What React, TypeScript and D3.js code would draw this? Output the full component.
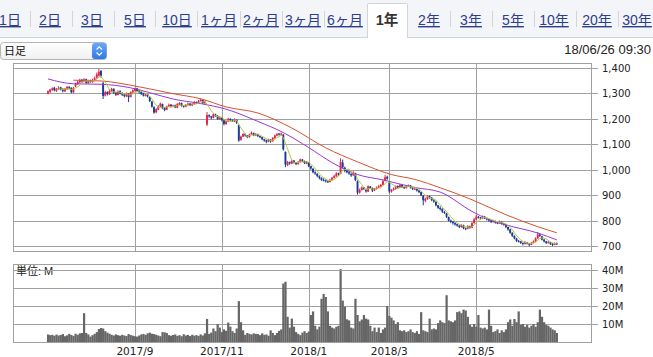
import React from "react";
import * as d3 from "d3";

// ---------- DATA ----------
const tabLabels = ["1日", "2日", "3日", "5日", "10日", "1ヶ月", "2ヶ月", "3ヶ月", "6ヶ月", "1年", "2年", "3年", "5年", "10年", "20年", "30年"];
const tabCenters = [10, 50, 92, 135, 177, 219, 261, 303, 345, 387, 429, 471, 513, 554, 597, 637];
const tabSeparators = [30, 72, 114, 155, 197, 240, 282, 324, 450, 492, 534, 576, 618];
const selectedTab = "1年";
const intervalLabel = "日足";
const timestampLabel = "18/06/26 09:30";
const volumeUnitLabel = "単位: M";

// [open, high, low, close] per trading day
const ohlc: number[][] = [
  [1300,1312,1296,1308],[1306,1318,1302,1315],[1314,1324,1310,1320],[1322,1326,1308,1312],[1310,1321,1306,1318],
  [1316,1328,1314,1322],[1324,1326,1312,1316],[1318,1320,1304,1310],[1308,1322,1306,1318],[1316,1330,1314,1325],
  [1326,1328,1316,1320],[1322,1324,1300,1305],[1304,1326,1302,1322],[1328,1342,1325,1338],[1336,1350,1334,1345],
  [1344,1358,1340,1352],[1354,1356,1342,1348],[1346,1360,1344,1355],[1356,1358,1338,1342],[1340,1354,1338,1350],
  [1352,1354,1342,1346],[1344,1358,1342,1352],[1350,1366,1348,1360],[1362,1382,1358,1375],[1370,1396,1366,1385],
  [1388,1392,1362,1370],[1340,1345,1278,1290],[1292,1310,1288,1305],[1306,1308,1292,1298],[1296,1314,1294,1310],
  [1308,1322,1306,1318],[1318,1320,1298,1302],[1304,1306,1290,1295],[1294,1312,1292,1308],[1310,1312,1296,1300],
  [1302,1304,1290,1295],[1296,1298,1284,1290],[1288,1304,1286,1300],[1298,1300,1266,1285],[1286,1308,1284,1305],
  [1304,1316,1302,1312],[1310,1322,1308,1318],[1320,1322,1306,1310],[1312,1314,1300,1305],[1306,1308,1294,1298],
  [1300,1302,1288,1292],[1290,1300,1288,1295],[1296,1298,1284,1288],[1286,1288,1266,1270],[1268,1270,1244,1248],
  [1246,1250,1220,1225],[1226,1242,1222,1238],[1236,1254,1234,1250],[1250,1264,1246,1260],[1258,1260,1238,1242],
  [1244,1246,1230,1235],[1236,1252,1234,1248],[1248,1260,1246,1255],[1256,1258,1246,1250],[1250,1256,1246,1252],
  [1254,1256,1242,1245],[1244,1262,1242,1258],[1256,1266,1254,1262],[1262,1264,1248,1250],[1252,1254,1244,1248],
  [1248,1258,1246,1255],[1254,1264,1252,1260],[1260,1262,1250,1252],[1252,1262,1250,1258],[1258,1270,1256,1265],
  [1266,1268,1258,1262],[1262,1274,1260,1270],[1270,1280,1268,1275],[1274,1276,1258,1262],[1262,1272,1258,1268],
  [1178,1227,1172,1215],[1214,1218,1204,1210],[1210,1212,1198,1205],[1204,1222,1202,1218],[1218,1220,1208,1212],
  [1212,1214,1196,1200],[1198,1210,1196,1205],[1204,1206,1190,1195],[1194,1196,1174,1180],[1180,1194,1176,1190],
  [1190,1204,1188,1200],[1200,1202,1190,1195],[1194,1198,1188,1192],[1190,1202,1188,1198],[1196,1198,1180,1185],
  [1176,1178,1110,1115],[1118,1134,1114,1130],[1130,1144,1128,1140],[1140,1142,1130,1135],[1134,1136,1124,1128],
  [1128,1142,1126,1138],[1138,1150,1136,1145],[1144,1146,1132,1135],[1134,1144,1132,1140],[1140,1142,1128,1132],
  [1132,1134,1124,1128],[1128,1130,1116,1120],[1120,1122,1110,1115],[1116,1118,1104,1110],[1110,1122,1108,1118],
  [1118,1120,1106,1112],[1112,1128,1110,1125],[1124,1138,1122,1135],[1134,1144,1132,1140],[1142,1144,1134,1138],
  [1138,1146,1136,1142],[1138,1140,1075,1080],[1070,1072,1010,1020],[1018,1034,1014,1030],[1030,1032,1020,1025],
  [1024,1040,1022,1035],[1036,1038,1024,1028],[1028,1030,1018,1022],[1022,1034,1020,1030],[1030,1044,1028,1040],
  [1040,1042,1030,1035],[1034,1036,1022,1025],[1024,1034,1022,1030],[1028,1030,1010,1015],[1014,1016,1000,1005],
  [1004,1006,986,990],[990,994,980,985],[984,986,970,975],[974,978,962,968],[968,970,956,960],
  [960,966,954,958],[958,962,950,955],[954,958,948,952],[952,964,950,960],[960,972,958,968],
  [968,980,966,975],[974,990,972,985],[986,988,976,982],[984,1045,982,1030],[1028,1040,1005,1010],
  [1008,1012,990,995],[996,1000,986,990],[990,994,980,985],[984,986,972,978],[978,994,976,990],
  [985,988,955,960],[955,958,902,910],[910,926,906,920],[920,934,918,930],[930,932,920,925],
  [924,926,910,915],[914,938,912,935],[934,936,924,928],[928,930,912,918],[918,928,916,925],
  [924,934,922,930],[930,940,928,935],[934,944,932,940],[940,960,938,955],[956,980,954,970],
  [972,976,960,965],[950,952,908,915],[914,924,910,920],[920,930,918,925],[924,938,922,935],
  [936,938,926,930],[930,944,928,940],[940,942,928,932],[932,934,924,928],[928,938,926,935],
  [934,942,932,938],[938,940,926,930],[930,932,920,925],[924,930,920,925],[924,926,914,918],
  [918,920,908,912],[912,914,896,900],[898,900,860,880],[878,890,872,885],[884,900,882,895],
  [896,898,886,890],[890,892,876,880],[880,884,870,875],[874,876,856,860],[860,862,846,850],
  [850,856,840,845],[846,848,830,835],[834,838,826,830],[828,830,810,815],[814,816,796,800],
  [800,804,790,795],[795,798,784,790],[790,794,780,785],[786,788,776,780],[780,782,770,775],
  [774,786,772,782],[782,784,766,770],[770,772,762,768],[768,782,766,778],[778,780,768,772],
  [772,794,770,790],[790,810,788,805],[804,822,802,815],[815,818,808,812],[812,814,804,808],
  [808,820,806,815],[815,818,806,810],[810,812,800,805],[805,808,796,800],[800,802,790,795],
  [794,802,792,798],[798,800,788,792],[792,794,786,790],[790,800,788,795],[795,796,784,788],
  [788,790,780,785],[785,786,770,775],[775,776,760,765],[765,768,748,752],[752,754,736,740],
  [740,742,726,730],[730,732,716,720],[720,724,714,718],[718,720,708,712],[712,714,702,708],
  [708,720,706,715],[715,716,706,710],[710,712,698,705],[705,716,703,712],[712,722,710,718],
  [718,734,716,730],[730,755,728,745],[745,750,736,740],[738,740,722,725],[725,728,714,718],
  [718,720,708,712],[712,720,710,715],[714,716,704,708],[708,712,700,705],[705,714,703,710],
  [710,714,704,708],
];

// volume in millions of shares
const volumes: number[] = [
  4.2,3.8,4.0,3.5,4.1,3.6,3.9,4.4,3.2,3.7,4.5,3.9,3.4,4.6,4.0,4.8,5.0,16.0,5.0,4.2,
  3.0,3.8,4.5,5.5,7.2,7.8,7.5,6.0,5.2,4.6,4.0,3.6,4.2,3.8,3.5,4.0,3.6,3.3,4.4,3.9,
  3.5,3.2,3.0,3.6,4.2,4.5,4.0,4.8,5.2,4.6,4.4,4.0,3.6,3.2,5.5,5.4,5.0,3.8,3.5,3.9,
  4.2,3.4,3.8,3.2,4.3,3.6,3.9,3.3,4.0,3.5,3.8,3.4,4.2,3.6,4.8,12.8,4.5,5.2,7.5,6.0,
  10.0,8.0,5.5,7.0,6.2,10.8,8.5,6.0,5.0,7.5,22.7,11.0,6.5,4.0,5.0,4.5,4.2,4.8,4.5,4.4,
  3.8,4.8,4.0,4.2,3.5,6.5,5.0,3.8,5.0,6.2,7.0,32.5,33.5,14.0,8.0,13.0,8.5,5.5,4.5,3.8,
  5.2,6.0,5.0,5.8,15.0,17.0,9.0,7.0,8.5,24.0,26.7,25.0,17.0,9.0,8.0,7.5,8.5,9.0,40.5,23.0,
  19.6,12.6,12.0,8.0,7.5,24.0,15.0,11.5,12.5,15.0,13.0,12.5,9.0,6.0,8.0,5.5,8.0,5.0,7.0,8.0,
  20.0,14.5,13.5,12.0,10.0,11.0,6.5,6.0,6.5,5.5,6.0,7.0,5.5,5.0,6.0,4.5,16.6,6.5,6.0,5.5,
  13.0,7.0,7.5,7.0,10.5,12.0,11.0,10.5,26.0,12.0,11.5,11.0,12.0,16.6,17.0,16.0,18.0,17.5,14.0,9.5,
  8.5,10.0,8.5,15.0,8.0,7.5,8.0,7.0,18.0,9.0,5.5,6.0,7.0,5.0,6.5,5.5,7.0,11.0,12.5,9.0,
  12.8,11.0,17.0,9.5,10.0,8.5,9.5,8.0,9.0,10.0,8.5,11.0,18.0,14.0,11.0,9.5,9.0,8.0,7.0,6.5,
  5.0,
];

// 25-day and 75-day moving averages: [dayIndex, price]
const ma25Samples: number[][] = [
  [0,1357],[12,1338],[25,1336],[39,1322],[48,1303],[59,1278],[72,1260],[84,1238],[99,1190],[111,1146],
  [123,1087],[134,1028],[146,981],[158,960],[173,930],[185,912],[200,836],[208,804],[216,783],[231,751],[240,724],
];
const ma75Samples: number[][] = [
  [12,1352],[25,1349],[43,1326],[59,1299],[72,1279],[84,1247],[99,1223],[115,1164],[131,1086],[146,1031],
  [162,981],[173,962],[185,929],[200,882],[216,823],[231,776],[240,752],
];

const priceTicks = [700, 800, 900, 1000, 1100, 1200, 1300, 1400];
const volumeTicks = [10, 20, 30, 40];
const monthTickLabels = ["2017/9", "2017/11", "2018/1", "2018/3", "2018/5"];
const monthTickIndex = [41, 82, 123, 161, 202];

// ---------- LAYOUT ----------
const W = 653, H = 357;
const plotL = 13, plotR = 592;
const mainT = 63, mainB = 252;
const volT = 264, volB = 342;
const UP = "#e3244f";
const DOWN = "#1d3a94";
const GRID = "#a0a0a0";
const AXIS_FONT = "'DejaVu Sans', sans-serif";
const UI_FONT = "'Liberation Sans', 'Noto Sans CJK JP', sans-serif";

const fmt = d3.format(",");

export default function App() {
  const x = d3.scaleLinear().domain([0, ohlc.length - 1]).range([48, 556.8]);
  const step = x(1) - x(0);
  const y = d3.scaleLinear().domain([700, 1400]).range([246, 68]);
  const yv = d3.scaleLinear().domain([0, 40]).range([342, 270]);

  const closes = ohlc.map((d) => d[3]);
  const ma5 = closes.map((_, i) => (i < 4 ? null : d3.mean(closes.slice(i - 4, i + 1)) as number));

  const line5 = d3.line<number | null>()
    .defined((d) => d !== null)
    .x((_, i) => x(i))
    .y((d) => y(d as number));
  const lineS = d3.line<number[]>()
    .x((d) => x(d[0]))
    .y((d) => y(d[1]))
    .curve(d3.curveMonotoneX);

  return (
    <svg width={W} height={H} style={{ position: "absolute", left: 0, top: 0, background: "#fff" }}>
      <defs>
        <clipPath id="mainClip"><rect x={plotL} y={mainT} width={plotR - plotL} height={mainB - mainT} /></clipPath>
        <linearGradient id="selGrad" x1="0" y1="0" x2="0" y2="1">
          <stop offset="0" stopColor="#ffffff" />
          <stop offset="1" stopColor="#f0f0f0" />
        </linearGradient>
        <linearGradient id="btnGrad" x1="0" y1="0" x2="0" y2="1">
          <stop offset="0" stopColor="#6aa8f7" />
          <stop offset="1" stopColor="#2f78e8" />
        </linearGradient>
      </defs>

      {/* tab bar */}
      <rect x={0} y={0} width={W} height={37.5} fill="#f4f5f8" />
      <line x1={0} x2={W} y1={37.5} y2={37.5} stroke="#cfd3da" />
      <path d={`M367.5,38 V4.5 Q367.5,3.5 368.5,3.5 H406.5 Q407.5,3.5 407.5,4.5 V38`} fill="#fff" stroke="#cfd3da" />
      <rect x={368} y={36} width={39} height={3} fill="#fff" />
      {tabSeparators.map((s) => (
        <line key={s} x1={s + 0.5} x2={s + 0.5} y1={11} y2={27} stroke="#d4d4d4" />
      ))}
      {tabLabels.map((t, i) => (
        <text key={t} x={tabCenters[i]} y={25} textAnchor="middle" fontFamily={UI_FONT}
          fontSize={t === selectedTab ? 14.5 : 14} fontWeight={t === selectedTab ? "bold" : "normal"}
          fill={t === selectedTab ? "#333" : "#2c3e8c"}
          textDecoration={t === selectedTab ? "none" : "underline"}>{t}</text>
      ))}

      {/* interval select */}
      <rect x={0.5} y={42.5} width={106} height={17} rx={3} fill="url(#selGrad)" stroke="#b5b5b5" />
      <rect x={92} y={43} width={14.5} height={16} rx={3} fill="url(#btnGrad)" />
      <path d="M96.5,49.5 L99.25,46.8 L102,49.5" fill="none" stroke="#fff" strokeWidth={1.2} />
      <path d="M96.5,52.5 L99.25,55.2 L102,52.5" fill="none" stroke="#fff" strokeWidth={1.2} />
      <text x={4} y={55} fontFamily={UI_FONT} fontSize={11} fill="#111">{intervalLabel}</text>
      <text x={651} y={54} textAnchor="end" fontFamily={UI_FONT} fontSize={13} fill="#222">{timestampLabel}</text>

      {/* main panel grid */}
      <rect x={plotL + 0.5} y={mainT + 0.5} width={plotR - plotL - 1} height={mainB - mainT - 1} fill="#fff" stroke={GRID} />
      {priceTicks.map((p) => (
        <g key={p}>
          <line x1={plotL} x2={plotR + 6} y1={Math.round(y(p)) + 0.5} y2={Math.round(y(p)) + 0.5} stroke={GRID} />
          <text x={602} y={Math.round(y(p)) + 0.5} dy="0.35em" fontFamily={AXIS_FONT} fontSize={10} fill="#222">{fmt(p)}</text>
        </g>
      ))}
      {monthTickIndex.map((mi) => (
        <line key={mi} x1={Math.round(x(mi)) + 0.5} x2={Math.round(x(mi)) + 0.5} y1={mainT} y2={mainB} stroke={GRID} />
      ))}

      {/* candles */}
      <g clipPath="url(#mainClip)">
        {ohlc.map((d, i) => {
          const [o, h, l, c] = d;
          const col = c >= o ? UP : DOWN;
          const top = y(Math.max(o, c));
          const bh = Math.max(1, y(Math.min(o, c)) - top);
          return (
            <g key={i}>
              <line x1={x(i)} x2={x(i)} y1={y(h)} y2={y(l)} stroke={col} strokeWidth={1} />
              <rect x={x(i) - step * 0.45} y={top} width={step * 0.9} height={bh} fill={col} />
            </g>
          );
        })}
        <path d={lineS(ma75Samples) || ""} fill="none" stroke="#d8512f" strokeWidth={1} />
        <path d={lineS(ma25Samples) || ""} fill="none" stroke="#9a36d6" strokeWidth={1} />
        <path d={line5(ma5) || ""} fill="none" stroke="#b3c83a" strokeWidth={1} />
      </g>

      {/* volume panel */}
      <rect x={plotL + 0.5} y={volT + 0.5} width={plotR - plotL - 1} height={volB - volT} fill="#fff" stroke={GRID} />
      {volumeTicks.map((v) => (
        <g key={v}>
          <line x1={plotL} x2={plotR + 6} y1={Math.round(yv(v)) + 0.5} y2={Math.round(yv(v)) + 0.5} stroke={GRID} />
          <text x={602} y={Math.round(yv(v)) + 0.5} dy="0.35em" fontFamily={AXIS_FONT} fontSize={10} fill="#222">{v}M</text>
        </g>
      ))}
      {monthTickIndex.map((mi) => (
        <line key={mi} x1={Math.round(x(mi)) + 0.5} x2={Math.round(x(mi)) + 0.5} y1={volT} y2={volB} stroke={GRID} />
      ))}
      {volumes.map((v, i) => (
        <rect key={i} x={x(i) - step / 2} y={yv(v)} width={step + 0.1} height={yv(0) - yv(v)} fill="#666" />
      ))}
      <line x1={plotL} x2={plotR} y1={volB + 0.5} y2={volB + 0.5} stroke={GRID} />
      <text x={16} y={275} fontFamily={UI_FONT} fontSize={11} fill="#222">{volumeUnitLabel}</text>
      <line x1={plotL} x2={plotR} y1={Math.round(yv(40)) + 0.5} y2={Math.round(yv(40)) + 0.5} stroke={GRID} />

      {/* month labels */}
      {monthTickLabels.map((t, k) => (
        <text key={t} x={x(monthTickIndex[k])} y={355} textAnchor="middle" fontFamily={AXIS_FONT} fontSize={10.5} fill="#222">{t}</text>
      ))}
    </svg>
  );
}
